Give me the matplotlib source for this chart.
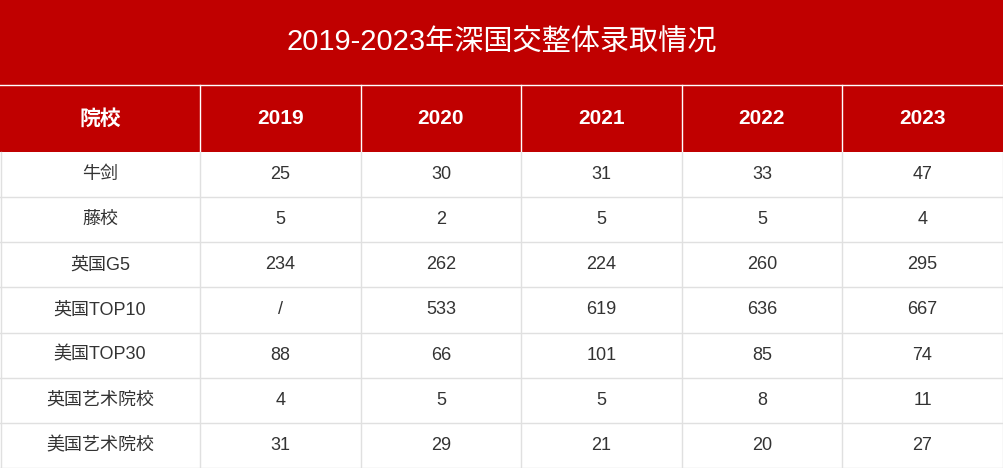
import matplotlib
matplotlib.use("Agg")
import matplotlib.pyplot as plt
from matplotlib.patches import Rectangle
from matplotlib import font_manager as fm

cjk = None
for f in fm.findSystemFonts():
    if "CJK" in f or "cjk" in f.lower():
        try:
            fm.fontManager.addfont(f)
            name = fm.FontProperties(fname=f).get_name()
            if cjk is None or "SC" in name:
                cjk = name
                if "SC" in name:
                    break
        except Exception:
            pass
plt.rcParams["font.family"] = ["Liberation Sans"] + ([cjk] if cjk else []) + ["DejaVu Sans"]

title = "2019-2023年深国交整体录取情况"
header = ["院校", "2019", "2020", "2021", "2022", "2023"]
schools = ["牛剑", "藤校", "英国G5", "英国TOP10", "美国TOP30", "英国艺术院校", "美国艺术院校"]
v2019 = ["25", "5", "234", "/", "88", "4", "31"]
v2020 = ["30", "2", "262", "533", "66", "5", "29"]
v2021 = ["31", "5", "224", "619", "101", "5", "21"]
v2022 = ["33", "5", "260", "636", "85", "8", "20"]
v2023 = ["47", "4", "295", "667", "74", "11", "27"]

W, H = 1004, 468
RED = "#C00000"
fig = plt.figure(figsize=(W/100, H/100), dpi=100)
ax = fig.add_axes([0, 0, 1, 1])
ax.set_xlim(0, W); ax.set_ylim(H, 0); ax.axis("off")

cols = [0, 200, 361, 521, 682, 842, 1003]
head_top, head_bot = 85, 152
row_h = (H - head_bot) / len(schools)

ax.add_patch(Rectangle((0, 0), W, head_bot, color=RED, lw=0))
ax.text(W/2, 43, title, color="white", fontsize=21, ha="center", va="center")
ax.plot([0, W], [head_top, head_top], color="white", lw=1)
for i, h in enumerate(header):
    cx = (cols[i] + cols[i+1]) / 2
    ax.text(cx, (head_top + head_bot)/2, h, color="white", fontsize=15,
            fontweight="bold", ha="center", va="center")
for x in cols[1:-1]:
    ax.plot([x, x], [head_top, head_bot], color="white", lw=1)

data = [schools, v2019, v2020, v2021, v2022, v2023]
grid = "#E0E0E0"
for r in range(len(schools)):
    y0 = head_bot + r * row_h
    for c in range(6):
        cx = (cols[c] + cols[c+1]) / 2
        ax.text(cx, y0 + row_h/2, data[c][r], color="#333333", fontsize=13,
                ha="center", va="center")
    ax.plot([0, W], [y0 + row_h, y0 + row_h], color=grid, lw=1)
for x in cols:
    ax.plot([x + 0.5, x + 0.5], [head_bot, H], color=grid, lw=1)

fig.savefig("out.png", dpi=100)
